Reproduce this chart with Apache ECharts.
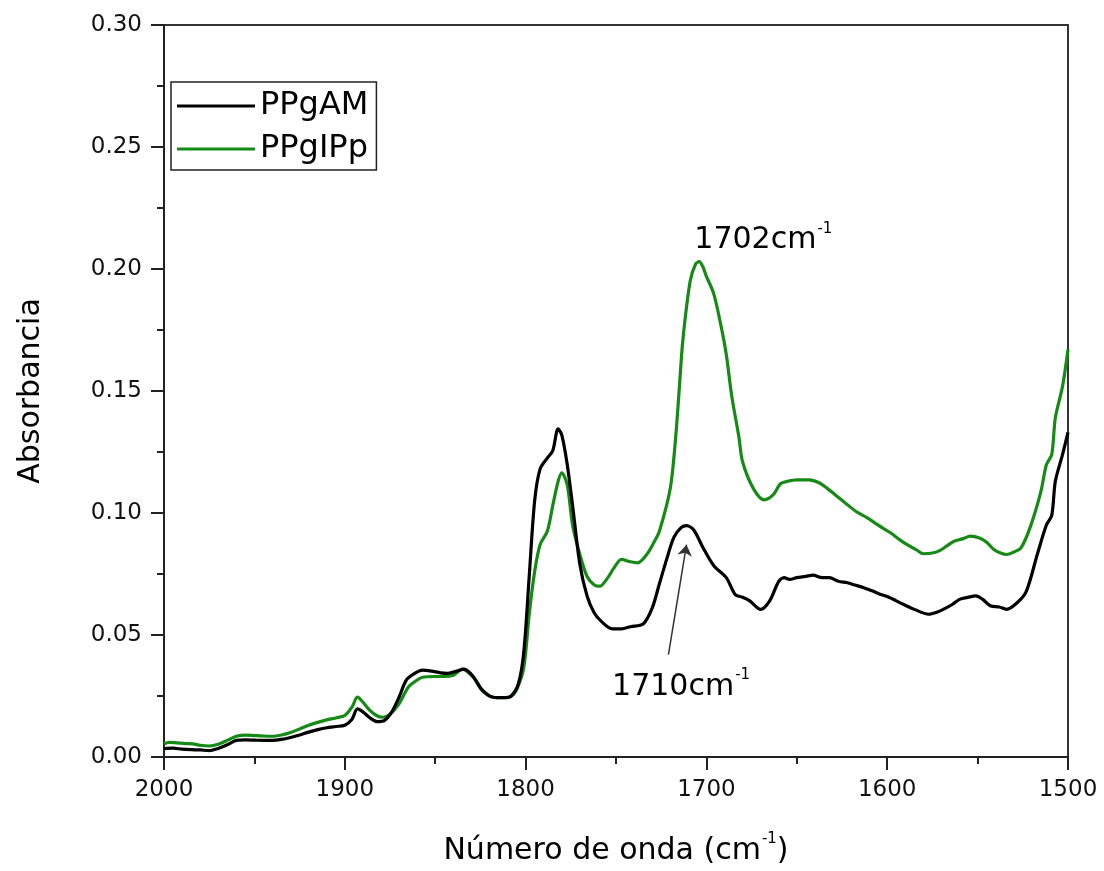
<!DOCTYPE html>
<html>
<head>
<meta charset="utf-8">
<script src="https://cdn.jsdelivr.net/npm/echarts@6/dist/echarts.min.js"></script>
<style>
html,body{margin:0;padding:0;background:#fff;}
#chart{width:1104px;height:871px;}
</style>
</head>
<body>
<div id="chart"></div>
<script>
// ---- Data ----
var seriesNames = ['PPgAM', 'PPgIPp'];

var wnAM = [2000,1995,1990,1985,1980,1975,1970,1965,1960,1955,1950,1945,1940,1935,1930,1925,1920,1915,1910,1905,1900,1896,1893,1890,1886,1882,1878,1874,1870,1866,1862,1857,1852,1847,1843,1838,1834,1829,1824,1818,1812,1808,1804,1801,1798,1795,1792,1788,1785,1782,1780,1777,1774,1770,1766,1762,1758,1752,1747,1742,1735,1730,1726,1722,1718,1714,1711,1707,1702,1696,1689,1684,1680,1676,1670,1665,1660,1657,1654,1650,1645,1641,1636,1632,1627,1622,1618,1613,1608,1604,1599,1595,1590,1585,1577,1573,1569,1564,1560,1555,1551,1547,1543,1538,1534,1528,1523,1517,1512,1509,1507,1503,1500];
var absAM = [0.0034,0.0036,0.0032,0.0030,0.0029,0.0026,0.0035,0.0050,0.0068,0.0070,0.0069,0.0068,0.0068,0.0072,0.0080,0.0090,0.0102,0.0112,0.0120,0.0125,0.0130,0.0155,0.0197,0.0185,0.0160,0.0145,0.0150,0.0185,0.0245,0.0315,0.0340,0.0356,0.0352,0.0345,0.0343,0.0352,0.0360,0.0330,0.0275,0.0245,0.0243,0.0250,0.0300,0.0430,0.0740,0.1050,0.1180,0.1225,0.1255,0.1345,0.1320,0.1200,0.1030,0.0790,0.0660,0.0590,0.0555,0.0525,0.0525,0.0534,0.0545,0.0610,0.0710,0.0810,0.0900,0.0940,0.0948,0.0930,0.0860,0.0785,0.0735,0.0665,0.0655,0.0640,0.0605,0.0640,0.0720,0.0735,0.0728,0.0735,0.0740,0.0745,0.0735,0.0735,0.0720,0.0714,0.0705,0.0694,0.0680,0.0667,0.0655,0.0640,0.0622,0.0605,0.0585,0.0592,0.0605,0.0625,0.0646,0.0655,0.0660,0.0645,0.0620,0.0615,0.0605,0.0633,0.0680,0.0830,0.0950,0.0990,0.1130,0.1240,0.1330];

var wnIPp = [2000,1997,1993,1988,1984,1980,1975,1970,1965,1960,1955,1950,1945,1940,1935,1930,1925,1920,1915,1910,1905,1900,1896,1893,1890,1886,1882,1879,1875,1870,1865,1861,1857,1850,1845,1840,1835,1829,1824,1818,1812,1808,1805,1801,1798,1795,1792,1788,1785,1782,1780,1777,1774,1770,1766,1762,1759,1755,1751,1747,1742,1738,1733,1729,1726,1720,1717,1715,1713,1709,1706,1704,1702,1700,1696,1692,1689,1686,1682,1680,1674,1668,1663,1659,1655,1650,1643,1638,1633,1628,1622,1617,1611,1605,1598,1593,1589,1584,1580,1575,1571,1567,1563,1558,1554,1549,1545,1541,1537,1534,1530,1526,1521,1515,1512,1509,1507,1503,1500];
var absIPp = [0.0054,0.0060,0.0058,0.0055,0.0054,0.0048,0.0045,0.0052,0.0068,0.0085,0.0090,0.0088,0.0086,0.0085,0.0090,0.0100,0.0115,0.0130,0.0142,0.0152,0.0160,0.0170,0.0205,0.0245,0.0225,0.0190,0.0168,0.0163,0.0175,0.0218,0.0285,0.0310,0.0327,0.0330,0.0330,0.0335,0.0360,0.0327,0.0272,0.0245,0.0243,0.0248,0.0275,0.0367,0.0585,0.0760,0.0870,0.0925,0.1030,0.1130,0.1165,0.1116,0.0950,0.0830,0.0740,0.0705,0.0700,0.0730,0.0776,0.0810,0.0800,0.0796,0.0830,0.0880,0.0925,0.1100,0.1310,0.1510,0.1710,0.1950,0.2020,0.2030,0.2010,0.1970,0.1900,0.1770,0.1650,0.1480,0.1310,0.1210,0.1100,0.1054,0.1075,0.1120,0.1130,0.1136,0.1136,0.1125,0.1100,0.1070,0.1034,0.1005,0.0980,0.0950,0.0918,0.0890,0.0870,0.0850,0.0833,0.0836,0.0846,0.0865,0.0884,0.0895,0.0905,0.0898,0.0880,0.0850,0.0835,0.0830,0.0840,0.0857,0.0940,0.1088,0.1197,0.1240,0.1390,0.1520,0.1670];

var xTicks = [2000, 1900, 1800, 1700, 1600, 1500];
var yTicks = [0.00, 0.05, 0.10, 0.15, 0.20, 0.25, 0.30];

// annotations (data coordinates)
var peakLabelIPp = {text: '1702', coord: [1668.5, 0.2125]};
var peakLabelAM = {text: '1710', coord: [1714, 0.0295]};
var arrowAM = {from: [1721, 0.042], to: [1711, 0.087]};

function zip(xs, ys) { return xs.map(function (x, i) { return [x, ys[i]]; }); }

var FONT = 'DejaVu Sans';
var richSup = {
  a: {fontSize: 30, fontFamily: FONT, color: '#000', lineHeight: 34, verticalAlign: 'bottom'},
  s: {fontSize: 15, fontFamily: FONT, color: '#000', lineHeight: 34, verticalAlign: 'top', padding: [0, 0, 0, 1]}
};

var chart = echarts.init(document.getElementById('chart'), null, {renderer: 'canvas'});
chart.setOption({
  animation: false,
  backgroundColor: '#fff',
  grid: {left: 164, right: 36, top: 25, bottom: 111, show: true, borderColor: '#333', borderWidth: 2, backgroundColor: 'transparent'},
  legend: {
    orient: 'vertical', left: 171, top: 82,
    data: seriesNames,
    icon: 'rect',
    borderColor: '#222', borderWidth: 1.5, borderRadius: 0,
    padding: [8, 8, 5, 6],
    itemWidth: 78, itemHeight: 3, itemGap: 11,
    textStyle: {fontFamily: FONT, fontSize: 32, color: '#000', lineHeight: 30},
    selectedMode: false
  },
  xAxis: {
    type: 'value', min: 1500, max: 2000, interval: 100, inverse: true,
    name: '{a|Número de onda (cm}{s|-1}{a|)}',
    nameLocation: 'middle', nameGap: 75,
    nameTextStyle: {rich: richSup},
    axisLine: {show: true, onZero: false, lineStyle: {color: '#222', width: 2}},
    axisTick: {show: true, inside: false, length: 13, lineStyle: {color: '#222', width: 2}},
    minorTick: {show: true, splitNumber: 2, length: 7, lineStyle: {color: '#222', width: 2}},
    axisLabel: {margin: 22, fontFamily: FONT, fontSize: 23, color: '#111',
      formatter: function (v) { return xTicks.indexOf(v) >= 0 ? String(v) : ''; }},
    splitLine: {show: false}
  },
  yAxis: {
    type: 'value', min: 0, max: 0.3, interval: 0.05,
    name: 'Absorbancia', nameLocation: 'middle', nameGap: 118, nameRotate: 90,
    nameTextStyle: {fontFamily: FONT, fontSize: 30, color: '#000'},
    axisLine: {show: true, onZero: false, lineStyle: {color: '#222', width: 2}},
    axisTick: {show: true, inside: false, length: 13, lineStyle: {color: '#222', width: 2}},
    minorTick: {show: true, splitNumber: 2, length: 7, lineStyle: {color: '#222', width: 2}},
    axisLabel: {margin: 22, fontFamily: FONT, fontSize: 23, color: '#111',
      formatter: function (v) {
        for (var i = 0; i < yTicks.length; i++) { if (Math.abs(yTicks[i] - v) < 1e-9) return yTicks[i].toFixed(2); }
        return '';
      }},
    splitLine: {show: false}
  },
  series: [
    {
      name: seriesNames[0], type: 'line', symbol: 'none', smooth: 0.3,
      data: zip(wnAM, absAM),
      lineStyle: {color: '#000', width: 3.2}, itemStyle: {color: '#000'},
      z: 3,
      markLine: {
        silent: true, animation: false,
        symbol: ['none', 'arrow'], symbolSize: 11,
        label: {show: false},
        lineStyle: {color: '#333', width: 1.5, type: 'solid'},
        itemStyle: {color: '#333'},
        emphasis: {disabled: true},
        data: [[{coord: arrowAM.from}, {coord: arrowAM.to}]]
      },
      markPoint: {
        silent: true, animation: false,
        symbol: 'circle', symbolSize: 1, itemStyle: {color: 'rgba(0,0,0,0)'},
        label: {show: true, position: 'inside', rich: richSup,
          formatter: function (p) { return '{a|' + p.name + 'cm}{s|-1}'; }},
        data: [{name: peakLabelAM.text, coord: peakLabelAM.coord}]
      }
    },
    {
      name: seriesNames[1], type: 'line', symbol: 'none', smooth: 0.3,
      data: zip(wnIPp, absIPp),
      lineStyle: {color: '#158a15', width: 3.2}, itemStyle: {color: '#158a15'},
      z: 2,
      markPoint: {
        silent: true, animation: false,
        symbol: 'circle', symbolSize: 1, itemStyle: {color: 'rgba(0,0,0,0)'},
        label: {show: true, position: 'inside', rich: richSup,
          formatter: function (p) { return '{a|' + p.name + 'cm}{s|-1}'; }},
        data: [{name: peakLabelIPp.text, coord: peakLabelIPp.coord}]
      }
    }
  ]
});
</script>
</body>
</html>
